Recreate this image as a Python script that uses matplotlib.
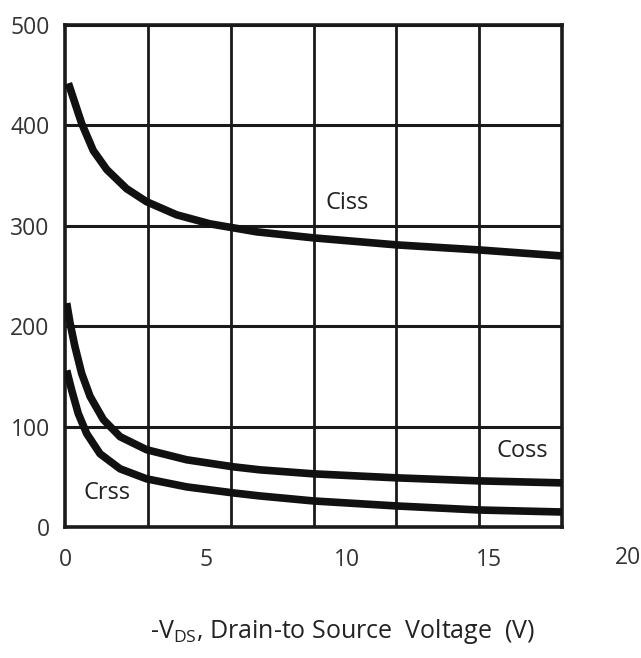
import matplotlib
matplotlib.use("Agg")
import matplotlib.pyplot as plt
import numpy as np

plt.rcParams['font.family'] = ['Open Sans', 'DejaVu Sans']
plt.rcParams['mathtext.fontset'] = 'custom'
plt.rcParams['mathtext.rm'] = 'Open Sans'

# Data
ciss_x = [0.12, 0.59, 1.0, 1.48, 2.18, 2.89, 3.95, 5.13, 5.96, 6.79, 8.8, 11.75, 14.66, 17.6]
ciss_y = [442, 402, 375, 356, 337, 324, 311, 302, 298, 294, 288, 281, 276, 270]
coss_x = [0.06, 0.18, 0.35, 0.59, 0.89, 1.36, 1.95, 2.89, 4.31, 5.96, 6.9, 8.8, 11.75, 14.66, 17.6]
coss_y = [223, 203, 180, 153, 130, 107, 90, 77, 67, 60, 57, 53, 49, 46, 44]
crss_x = [0.06, 0.24, 0.47, 0.77, 1.24, 1.95, 2.89, 4.31, 5.96, 6.9, 8.8, 11.75, 14.66, 17.6]
crss_y = [156, 136, 113, 93, 73, 58, 48, 40, 34, 31, 26, 21, 17, 15]

x_ticks = [0, 5, 10, 15, 20]
y_ticks = [0, 100, 200, 300, 400, 500]
x_max = 17.6
y_max = 500

fig = plt.figure(figsize=(6.41, 6.58), dpi=100)
ax = fig.add_axes([0.1014, 0.199, 0.7754, 0.763])

ax.set_xlim(0, x_max)
ax.set_ylim(0, y_max)

# grid: 6 equal vertical divisions, horizontal at y ticks
ax.set_xticks(np.linspace(0, x_max, 7), minor=True)
ax.set_xticks([t for t in x_ticks if t <= x_max])
ax.set_xticklabels([str(t) for t in x_ticks if t <= x_max])
ax.set_yticks(y_ticks)
ax.grid(True, which='minor', axis='x', color='#1a1a1a', lw=2.0)
ax.grid(True, which='major', axis='y', color='#1a1a1a', lw=2.2)
ax.grid(False, which='major', axis='x')
ax.tick_params(axis='both', which='both', length=0)
ax.tick_params(axis='x', pad=15, labelsize=16.5, labelcolor='#333333')
ax.tick_params(axis='y', pad=11, labelsize=16.5, labelcolor='#333333')
for s in ax.spines.values():
    s.set_linewidth(2.6)
    s.set_color('#1a1a1a')
ax.set_axisbelow(True)

# tick label beyond the axis limit
for t in x_ticks:
    if t > x_max:
        ax.text(t - 0.05, -0.038, str(t), transform=ax.get_xaxis_transform(),
                ha='center', va='top', fontsize=16.5, color='#333333',
                clip_on=False)

for xs, ys in [(ciss_x, ciss_y), (coss_x, coss_y), (crss_x, crss_y)]:
    ax.plot(xs, ys, color='#111111', lw=5.5, solid_capstyle='butt',
            solid_joinstyle='round', zorder=3)

ax.text(10.0, 323, 'Ciss', fontsize=17, color='#222222', ha='center', va='center')
ax.text(16.2, 76, 'Coss', fontsize=17, color='#222222', ha='center', va='center')
ax.text(1.5, 34, 'Crss', fontsize=17, color='#222222', ha='center', va='center')

fig.text(0.535, 0.040, r'-V$_{\mathrm{DS}}$, Drain-to Source  Voltage  (V)',
         ha='center', va='center', fontsize=18, color='#222222')

fig.savefig('out.png', dpi=100)
